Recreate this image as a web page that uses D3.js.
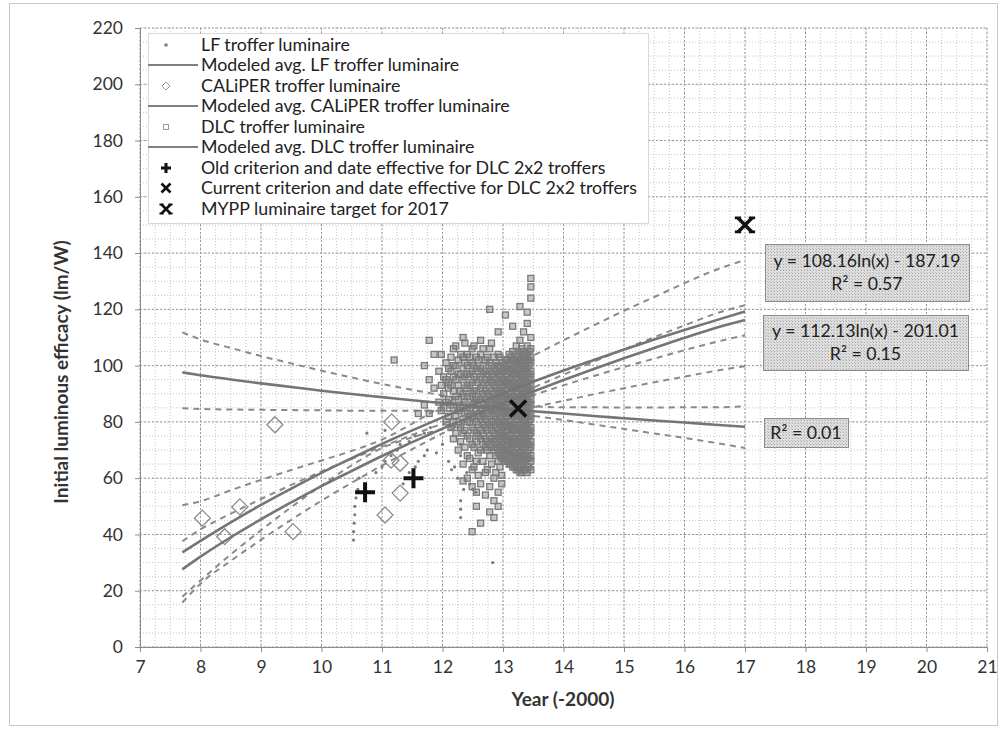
<!DOCTYPE html>
<html><head><meta charset="utf-8">
<script src="https://cdn.jsdelivr.net/npm/d3@7"></script>
<style>body{margin:0;background:#fff}svg{display:block}</style>
</head><body>
<svg id="chart" width="1000" height="730"></svg>
<script>
// ---------- data ----------
const xTickValues = [7,8,9,10,11,12,13,14,15,16,17,18,19,20,21];
const yTickValues = [0,20,40,60,80,100,120,140,160,180,200,220];

const fitX      = [7.7,8,8.5,9,9.5,10,10.5,11,11.5,12,12.5,13,13.5,14,14.5,15,15.5,16,16.5,17];
// modeled average curves
const fitA      = [33.6,37.7,44.3,50.5,56.3,61.9,67.1,72.2,77.0,81.6,86.0,90.2,94.3,98.3,102.0,105.7,109.3,112.7,116.0,119.2];
const fitAUpper = [50.4,51.8,55.7,59.4,62.9,66.3,69.7,73.7,79.4,85.7,91.8,97.7,103.5,109.0,114.3,119.5,124.4,129.3,133.9,137.5];
const fitALower = [17.9,23.6,32.9,41.5,49.7,57.4,64.6,70.7,74.5,77.5,80.2,82.7,85.2,87.5,89.8,92.0,94.1,96.1,98.1,99.8];
const fitB      = [27.6,32.1,39.0,45.4,51.4,57.2,62.6,67.9,72.8,77.6,82.2,86.6,90.8,94.9,98.8,102.6,106.3,109.9,113.3,116.2];
const fitBUpper = [37.6,41.8,47.4,52.6,57.6,62.4,66.9,71.2,75.4,79.4,83.4,87.6,92.2,96.8,101.4,105.8,110.1,114.3,118.4,121.5];
const fitBLower = [15.8,22.5,30.6,38.1,45.2,52.0,58.4,64.5,70.3,75.9,81.0,85.6,89.5,93.0,96.3,99.5,102.5,105.5,108.3,110.8];
const fitC      = [97.6,96.6,95.1,93.7,92.4,91.1,89.9,88.8,87.7,86.7,85.7,84.7,83.8,83.0,82.1,81.3,80.5,79.8,79.0,78.3];
const fitCUpper = [111.8,109.3,106.3,103.4,100.8,98.2,95.8,93.5,91.4,89.4,87.6,86.2,85.5,85.2,85.2,85.1,85.1,85.2,85.2,85.5];
const fitCLower = [84.9,84.6,84.4,84.3,84.2,84.1,84.0,84.0,84.0,83.9,83.7,83.2,82.1,80.7,79.1,77.5,75.9,74.3,72.6,70.7];

// LF troffer luminaires
const lfX = [10.53,10.53,10.54,10.55,10.55,10.57,10.6,10.62,10.9,11.0,11.05,11.15,11.25,11.3,11.45,11.55,11.7,11.8,
             11.35,11.45,11.55,11.6,11.7,11.75,11.9,12.0,12.1,12.15,12.3,12.3,12.3,12.3,12.3,12.35,12.5,12.55,12.6,12.7,
             10.75,11.05,12.83,12.25,12.4,12.45,12.2];
const lfY = [38,41,44,47,50,53,56,60,62,64,66,68,70,72,73,75,76,78,
             58,62,64,66,68,70,69,72,66,63,72,68,52,49,46,56,56,55,66,65,
             76,77,30,60,62,58,64];

// CALiPER troffer luminaires
const caliperX = [8.03,8.40,8.65,9.23,9.53,11.05,11.16,11.15,11.3,11.3];
const caliperY = [45.8,39.2,49.8,79.0,41.0,46.9,80.0,66.4,65.3,54.7];

// DLC troffer luminaires, grouped by listing date
const dlcColumns = [
  [13.46,[63,66,68,71,73,76,78,81,83,86,88,91,93,96,98,101,103,106,110,124,128,131]],
  [13.43,[64,67,70,72,75,77,80,82,85,87,90,92,95,97,100,102,105]],
  [13.40,[62,64,67,69,72,74,77,79,82,84,87,89,92,94,97,99,102,104,107,115,119]],
  [13.37,[63,66,68,71,74,76,79,81,84,86,89,91,94,96,99,101,104]],
  [13.34,[63,65,68,70,73,75,78,80,83,85,88,90,93,95,98,100,103,105,112]],
  [13.31,[62,65,67,70,72,75,77,80,82,85,87,90,92,95,97,100,102,106]],
  [13.28,[62,64,67,69,72,74,77,79,82,84,87,89,92,94,97,99,102,105,109,121]],
  [13.25,[63,66,68,71,73,76,78,81,83,86,88,91,93,96,98,101,103]],
  [13.22,[63,66,68,71,73,76,78,81,83,86,88,91,93,96,98,101,104,107]],
  [13.19,[64,66,69,72,74,77,79,82,84,87,89,92,94,97,99,102]],
  [13.16,[64,67,69,72,74,77,79,82,84,87,89,92,94,97,99,102,105,114]],
  [13.13,[65,68,70,73,75,78,80,83,85,88,90,93,95,98,100,103]],
  [13.10,[65,68,70,73,75,78,80,83,85,88,90,93,95,98,101,104]],
  [13.07,[66,69,71,74,77,79,82,84,87,89,92,94,97,99,102]],
  [13.04,[66,69,71,74,76,79,81,84,86,89,91,94,96,99,102,118]],
  [13.01,[67,70,73,75,78,80,83,85,88,90,93,95,98,100]],
  [12.98,[58,61,67,70,72,75,77,80,82,85,87,90,92,95,98,101]],
  [12.95,[64,68,71,74,76,79,81,84,86,89,91,94,97,100,103]],
  [12.92,[50,55,66,69,72,75,77,80,83,86,88,91,94,97,100,104,112]],
  [12.88,[62,68,71,74,78,81,84,87,89,92,95,98,101]],
  [12.85,[46,52,60,70,73,76,79,82,85,88,90,93,96,99,103]],
  [12.81,[65,71,74,77,80,84,87,91,94,97,100,108]],
  [12.78,[48,57,68,72,75,79,82,86,89,92,95,98,101,106,120]],
  [12.74,[63,70,73,77,80,83,87,90,94,97,103]],
  [12.71,[54,62,71,74,78,81,85,88,91,95,98,102]],
  [12.67,[66,72,76,79,83,86,90,93,97,100,106]],
  [12.63,[44,58,70,74,77,81,84,88,92,96,99,104,109]],
  [12.59,[61,69,75,79,82,86,89,94,98,102]],
  [12.56,[50,55,66,73,76,80,84,88,91,95,99,103]],
  [12.52,[64,71,77,82,87,91,96,100,107]],
  [12.49,[41,57,63,72,78,82,86,90,94,98,101,106]],
  [12.45,[67,74,80,85,89,93,97,103]],
  [12.41,[60,68,75,80,84,89,93,97,100,104]],
  [12.37,[71,77,83,87,92,96,101,108]],
  [12.34,[59,65,76,81,86,90,95,99,103,110]],
  [12.30,[73,78,85,91,97,104]],
  [12.26,[70,79,84,88,93,97,102]],
  [12.22,[76,82,89,95,100,107]],
  [12.18,[74,80,85,91,96,100,106]],
  [12.14,[78,86,93,98,103]],
  [12.10,[82,88,92,94,99]],
  [12.06,[80,87,95,101]],
  [12.02,[85,90,96]],
  [11.98,[84,93,104]],
  [11.94,[87,98]],
  [11.86,[92,104]],
  [11.78,[83,95,109]],
  [11.70,[86,100]],
  [11.60,[83]],
  [11.20,[102]]
];

const oldCritX = [10.72,11.52], oldCritY = [55,60];
const curCritX = [13.25],       curCritY = [84.8];
const myppX    = [17],          myppY    = [150];

const legendLabels = [
  "LF troffer luminaire",
  "Modeled avg. LF troffer luminaire",
  "CALiPER troffer luminaire",
  "Modeled avg. CALiPER troffer luminaire",
  "DLC troffer luminaire",
  "Modeled avg. DLC troffer luminaire",
  "Old criterion and date effective for DLC 2x2 troffers",
  "Current criterion and date effective for DLC 2x2 troffers",
  "MYPP luminaire target for 2017"
];
const eqLabels = [
  ["y = 108.16ln(x) - 187.19","R\u00b2 = 0.57"],
  ["y = 112.13ln(x) - 201.01","R\u00b2 = 0.15"],
  ["R\u00b2 = 0.01"]
];
const xTitle = "Year (-2000)";
const yTitle = "Initial luminous efficacy (lm/W)";

// ---------- drawing ----------
const svg = d3.select("#chart");
const FONT = "Lato, 'Open Sans', sans-serif";
const L = 140, R = 987, T = 28, B = 647;
const x = d3.scaleLinear().domain([7,21]).range([L,R]);
const y = d3.scaleLinear().domain([0,220]).range([B,T]);

svg.append("rect").attr("x",9.5).attr("y",3.5).attr("width",988).attr("height",722)
  .attr("fill","#fff").attr("stroke","#c8c8c8");

const defs = svg.append("defs");
const pat = defs.append("pattern").attr("id","stip").attr("width",3).attr("height",3)
  .attr("patternUnits","userSpaceOnUse");
pat.append("rect").attr("width",3).attr("height",3).attr("fill","#dedede");
pat.append("rect").attr("x",0).attr("y",0).attr("width",1).attr("height",1).attr("fill","#a9a9a9");
pat.append("rect").attr("x",2).attr("y",2).attr("width",1).attr("height",1).attr("fill","#bdbdbd");
defs.append("clipPath").attr("id","plotClip").append("rect")
  .attr("x",L).attr("y",T).attr("width",R-L).attr("height",B-T);

// minor grid
const g = svg.append("g");
const minorX = d3.range(7,21.001,0.25), minorY = d3.range(0,220.001,5);
g.selectAll(".mx").data(minorX).join("line")
  .attr("x1",d=>x(d)).attr("x2",d=>x(d)).attr("y1",T).attr("y2",B)
  .attr("stroke","#c4c4c4").attr("stroke-width",1).attr("stroke-dasharray","1,2");
g.selectAll(".my").data(minorY).join("line")
  .attr("y1",d=>y(d)).attr("y2",d=>y(d)).attr("x1",L).attr("x2",R)
  .attr("stroke","#c4c4c4").attr("stroke-width",1).attr("stroke-dasharray","1,2");
// major grid
g.selectAll(".Mx").data(xTickValues).join("line")
  .attr("x1",d=>x(d)).attr("x2",d=>x(d)).attr("y1",T).attr("y2",B)
  .attr("stroke","#9a9a9a").attr("stroke-width",1).attr("stroke-dasharray","2,2");
g.selectAll(".My").data(yTickValues).join("line")
  .attr("y1",d=>y(d)).attr("y2",d=>y(d)).attr("x1",L).attr("x2",R)
  .attr("stroke","#9a9a9a").attr("stroke-width",1).attr("stroke-dasharray","2,2");

// axes
const xAxis = svg.append("g").attr("transform",`translate(0,${B})`)
  .call(d3.axisBottom(x).tickValues(xTickValues).tickFormat(d3.format("d")).tickSize(5).tickPadding(9));
const yAxis = svg.append("g").attr("transform",`translate(${L},0)`)
  .call(d3.axisLeft(y).tickValues(yTickValues).tickFormat(d3.format("d")).tickSize(5).tickPadding(12));
[xAxis,yAxis].forEach(a=>{
  a.select(".domain").attr("stroke","#8c8c8c");
  a.selectAll(".tick line").attr("stroke","#8c8c8c");
  a.selectAll("text").attr("font-family",FONT).attr("font-size",17.5).attr("fill","#333");
});

svg.append("text").attr("x",563).attr("y",706).attr("text-anchor","middle")
  .attr("font-family",FONT).attr("font-size",19).attr("font-weight","bold").attr("fill","#333").text(xTitle);
svg.append("text").attr("transform","translate(68,372) rotate(-90)").attr("text-anchor","middle")
  .attr("font-family",FONT).attr("font-size",19).attr("font-weight","bold").attr("fill","#333").text(yTitle);

// plot layer
const p = svg.append("g").attr("clip-path","url(#plotClip)");
const lineGen = d3.line().x((d,i)=>x(fitX[i])).y(d=>y(d)).curve(d3.curveMonotoneX);

// dashed bands
[fitAUpper,fitALower,fitBUpper,fitBLower,fitCUpper,fitCLower].forEach(s=>{
  p.append("path").datum(s).attr("d",lineGen).attr("fill","none")
    .attr("stroke","#8a8a8a").attr("stroke-width",2).attr("stroke-dasharray","6,5");
});

// LF points
const lfData = lfX.map((v,i)=>[v,lfY[i]]);
p.selectAll(".lf").data(lfData).join("circle")
  .attr("cx",d=>x(d[0])).attr("cy",d=>y(d[1])).attr("r",1.6).attr("fill","#7c7c7c");

// DLC squares
const dlcData = [];
dlcColumns.forEach(c=>c[1].forEach(v=>dlcData.push([c[0],v])));
p.selectAll(".dlc").data(dlcData).join("rect")
  .attr("x",d=>x(d[0])-3).attr("y",d=>y(d[1])-3).attr("width",6).attr("height",6)
  .attr("fill","#7a7a7a").attr("fill-opacity",0.42).attr("stroke","#7a7a7a").attr("stroke-width",1.3);

// CALiPER diamonds
const calData = caliperX.map((v,i)=>[v,caliperY[i]]);
p.selectAll(".cal").data(calData).join("path")
  .attr("d",d=>{const cx=x(d[0]),cy=y(d[1]),s=8;return `M${cx},${cy-s}L${cx+s},${cy}L${cx},${cy+s}L${cx-s},${cy}Z`;})
  .attr("fill","none").attr("stroke","#8a8a8a").attr("stroke-width",1.3);

// modeled averages
[fitA,fitB,fitC].forEach(s=>{
  p.append("path").datum(s).attr("d",lineGen).attr("fill","none")
    .attr("stroke","#757575").attr("stroke-width",2.6);
});

// markers
function plus(sel,cx,cy,s,w){
  sel.append("path").attr("d",`M${cx-s},${cy}H${cx+s}M${cx},${cy-s}V${cy+s}`)
    .attr("stroke","#111").attr("stroke-width",w).attr("fill","none");
}
function cross(sel,cx,cy,s,w){
  sel.append("path").attr("d",`M${cx-s},${cy-s}L${cx+s},${cy+s}M${cx+s},${cy-s}L${cx-s},${cy+s}`)
    .attr("stroke","#111").attr("stroke-width",w).attr("fill","none");
}
function mypp(sel,cx,cy,s,w){
  cross(sel,cx,cy,s,w);
  const c = s*0.45;
  sel.append("path").attr("d",
      `M${cx-s-c},${cy-s}H${cx-s+c}M${cx+s-c},${cy-s}H${cx+s+c}M${cx-s-c},${cy+s}H${cx-s+c}M${cx+s-c},${cy+s}H${cx+s+c}`)
    .attr("stroke","#111").attr("stroke-width",w*0.8).attr("fill","none");
}
const mk = svg.append("g");
oldCritX.forEach((v,i)=>plus(mk,x(v),y(oldCritY[i]),10,4));
curCritX.forEach((v,i)=>cross(mk,x(v),y(curCritY[i]),8,3.5));
myppX.forEach((v,i)=>mypp(mk,x(v),y(myppY[i]),7,3.5));

// equation boxes
const boxes = [
  {x:765,y:244,w:204,h:57},
  {x:763,y:315,w:205,h:55},
  {x:764,y:418,w:84,h:29}
];
boxes.forEach((b,i)=>{
  svg.append("rect").attr("x",b.x+0.5).attr("y",b.y+0.5).attr("width",b.w).attr("height",b.h)
    .attr("fill","url(#stip)").attr("stroke","#8c8c8c").attr("stroke-width",1);
  const lines = eqLabels[i];
  lines.forEach((t,j)=>{
    const cy = lines.length===1 ? b.y+b.h/2 : b.y+b.h/2 + (j-0.5)*23;
    svg.append("text").attr("x",b.x+b.w/2).attr("y",cy).attr("dy","0.35em")
      .attr("text-anchor","middle").attr("font-family",FONT).attr("font-size",17.7).attr("fill","#222").text(t);
  });
});

// legend
const lg = svg.append("g");
lg.append("rect").attr("x",148.5).attr("y",33.5).attr("width",500).attr("height",190)
  .attr("fill","#fff").attr("stroke","#b0b0b0").attr("stroke-dasharray","1,1");
const legY = [45,65,86,106,127,147,168,188,209];
legendLabels.forEach((t,i)=>{
  const yy = legY[i], gx = 166;
  if(i===0) lg.append("circle").attr("cx",gx).attr("cy",yy).attr("r",1.8).attr("fill","#7c7c7c");
  if(i===1||i===3||i===5) lg.append("line").attr("x1",148).attr("x2",198).attr("y1",yy).attr("y2",yy)
      .attr("stroke","#808080").attr("stroke-width",2.2);
  if(i===2) lg.append("path").attr("d",`M${gx},${yy-4}L${gx+4},${yy}L${gx},${yy+4}L${gx-4},${yy}Z`)
      .attr("fill","none").attr("stroke","#999").attr("stroke-width",1);
  if(i===4) lg.append("rect").attr("x",gx-2.5).attr("y",yy-2.5).attr("width",5).attr("height",5)
      .attr("fill","none").attr("stroke","#999").attr("stroke-width",1);
  if(i===6) plus(lg,gx,yy,5,3);
  if(i===7) cross(lg,gx,yy,4.5,2.6);
  if(i===8) mypp(lg,gx,yy,4.5,2.6);
  lg.append("text").attr("x",201).attr("y",yy).attr("dy","0.35em")
    .attr("font-family",FONT).attr("font-size",17.8).attr("fill","#222").text(t);
});
</script>
</body></html>
